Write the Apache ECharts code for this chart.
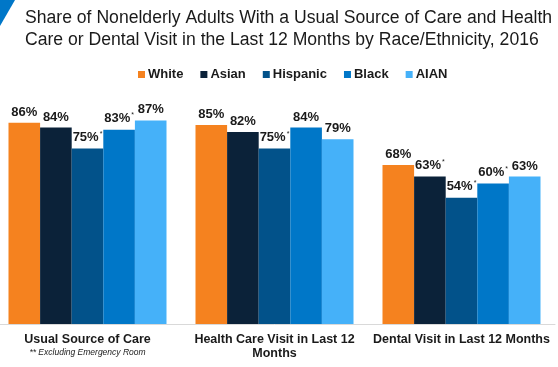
<!DOCTYPE html>
<html><head><meta charset="utf-8">
<script src="https://cdn.jsdelivr.net/npm/echarts@6/dist/echarts.min.js"></script>
<style>html,body{margin:0;padding:0;background:#fff;overflow:hidden}#c{width:564px;height:367px;margin-left:-6px}</style>
</head><body><div id="c"></div>
<script>
const categories = ['Usual Source of Care', 'Health Care Visit in Last 12\nMonths', 'Dental Visit in Last 12 Months'];
const seriesNames = ['White', 'Asian', 'Hispanic', 'Black', 'AIAN'];
const white = [86, 85, 68];
const asian = [84, 82, 63];
const hispanic = [75, 75, 54];
const black = [83, 84, 60];
const aian = [87, 79, 63];
// significance markers (asterisk) per series per category
const whiteSig = [false, false, false];
const asianSig = [false, false, true];
const hispanicSig = [true, true, true];
const blackSig = [true, false, true];
const aianSig = [false, false, false];
const footnote = '** Excluding Emergency Room';

const colors = ['#F5821F', '#0B2239', '#02528A', '#0077C8', '#45B1F9'];
const values = [white, asian, hispanic, black, aian];
const sigs = [whiteSig, asianSig, hispanicSig, blackSig, aianSig];

const chart = echarts.init(document.getElementById('c'), null, {renderer: 'canvas'});
const font = 'Arial, "Liberation Sans", sans-serif';
chart.setOption({
  animation: false,
  textStyle: {fontFamily: font},
  title: {
    text: 'Share of Nonelderly Adults With a Usual Source of Care and Health\nCare or Dental Visit in the Last 12 Months by Race/Ethnicity, 2016',
    left: 31, top: 7, padding: 0,
    textStyle: {fontSize: 17.6, fontWeight: 'normal', color: '#1a1a1a', lineHeight: 22, fontFamily: font}
  },
  graphic: [{
    type: 'polygon', shape: {points: [[6, 0], [21, 0], [6, 26]]}, style: {fill: '#0077C8'}
  }],
  legend: {
    data: seriesNames,
    top: 63, left: 139,
    itemWidth: 7, itemHeight: 7, itemGap: 17,
    icon: 'rect',
    textStyle: {fontSize: 13, fontWeight: 'bold', color: '#1a1a1a', fontFamily: font, padding: [0, 0, 0, -2]}
  },
  grid: {left: 0, width: 561, top: 90, bottom: 43, containLabel: false},
  xAxis: {
    type: 'category', data: categories,
    axisLine: {show: true, lineStyle: {color: '#d9d9d9', width: 1}},
    axisTick: {show: false},
    axisLabel: {
      interval: 0, margin: 9,
      formatter: function (v, i) {
        if (i === 0) return '{a|' + v + '}\n{b|' + footnote + '}';
        return v.split('\n').map(s => '{a|' + s + '}').join('\n');
      },
      rich: {
        a: {fontSize: 12.5, fontWeight: 'bold', color: '#1a1a1a', lineHeight: 14, fontFamily: font},
        b: {fontSize: 8.5, fontStyle: 'italic', color: '#1a1a1a', lineHeight: 11, fontFamily: font}
      }
    }
  },
  yAxis: {type: 'value', min: 0, max: 100, show: false, splitLine: {show: false}},
  series: seriesNames.map((name, si) => ({
    name: name, type: 'bar',
    barGap: '0%', barCategoryGap: '15.5%',
    itemStyle: {color: colors[si]},
    data: values[si].map((v, ci) => ({
      value: v,
      label: {
        show: true, position: 'top', distance: 4,
        formatter: sigs[si][ci] ? '{v|' + v + '%}{s|*}' : '{v|' + v + '%}',
        rich: {
          v: {fontSize: 13, fontWeight: 'bold', color: '#1a1a1a', fontFamily: font},
          s: {fontSize: 7, color: '#1a1a1a', verticalAlign: 'top', padding: [0, 0, 7, 1], fontFamily: font}
        }
      }
    }))
  }))
});
</script></body></html>
